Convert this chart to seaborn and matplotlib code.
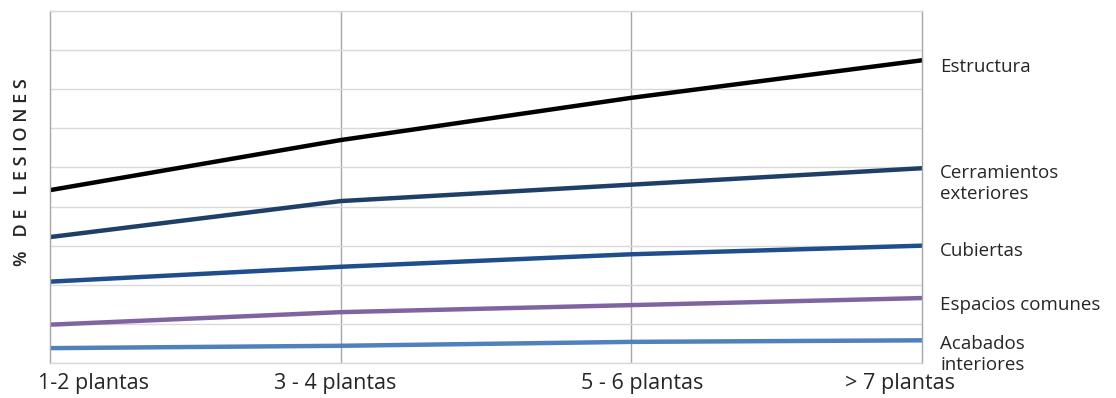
import matplotlib
matplotlib.use("Agg")
import matplotlib.pyplot as plt
import matplotlib.transforms as mtransforms
import seaborn as sns
import pandas as pd

categories = ["1-2 plantas", "3 - 4 plantas", "5 - 6 plantas", "> 7 plantas"]
estructura = [22.1, 28.5, 33.9, 38.7]
cerramientos = [16.1, 20.7, 22.8, 24.9]
cubiertas = [10.4, 12.3, 13.9, 15.0]
espacios = [4.9, 6.5, 7.4, 8.3]
acabados = [1.9, 2.2, 2.7, 2.9]
series_names = ["Estructura", "Cerramientos\nexteriores", "Cubiertas",
                "Espacios comunes", "Acabados\ninteriores"]
series_values = [estructura, cerramientos, cubiertas, espacios, acabados]
colors = ["#000000", "#1F3F68", "#1F4E8C", "#8064A2", "#4F81BD"]
ylabel = "%   D E   L E S I O N E S"

rows = []
for name, vals in zip(series_names, series_values):
    for i, v in enumerate(vals):
        rows.append({"x": i, "cat": categories[i], "serie": name, "valor": v})
df = pd.DataFrame(rows)

sns.set_theme(style="white")
plt.rcParams["font.family"] = ["Open Sans", "DejaVu Sans"]

fig = plt.figure(figsize=(11.16, 3.98), dpi=100)
ax = fig.add_axes([50 / 1116, 1 - 363 / 398, (922 - 50) / 1116, (363 - 11) / 398])

sns.lineplot(data=df, x="x", y="valor", hue="serie", palette=colors,
             hue_order=series_names, linewidth=3.2, ax=ax, legend=False,
             sort=False)

ax.set_xlim(0, 3)
ax.set_ylim(0, 45)
ax.set_yticks(range(0, 46, 5))
ax.set_yticklabels([])
ax.tick_params(axis="y", length=0)
ax.grid(axis="y", color="#D9D9D9", linewidth=1)
ax.set_axisbelow(True)
for xv in [1, 2]:
    ax.axvline(xv, color="#A6A6A6", linewidth=1, zorder=0)
for s in ["left", "right"]:
    ax.spines[s].set_color("#A6A6A6")
    ax.spines[s].set_linewidth(1)
for s in ["top", "bottom"]:
    ax.spines[s].set_color("#D9D9D9")
    ax.spines[s].set_linewidth(1)

ax.set_xticks(range(len(categories)))
ax.set_xticklabels(categories, fontsize=15.5, color="#262626")
ax.tick_params(axis="x", length=0, pad=7)
offsets = [43, -5, 11, -22]
for lab, dx in zip(ax.get_xticklabels(), offsets):
    lab.set_transform(lab.get_transform() +
                      mtransforms.ScaledTranslation(dx / 100, 0, fig.dpi_scale_trans))
ax.set_xlabel("")
ax.set_ylabel("")

label_dy = [-5, -11, -4, -5, -10]
for name, vals, dy in zip(series_names, series_values, label_dy):
    ax.annotate(name, xy=(3, vals[-1]), xytext=(13, dy), textcoords="offset points",
                ha="left", va="center", fontsize=13.5, color="#262626",
                annotation_clip=False, linespacing=1.2)

fig.text(22 / 1116, 1 - 172 / 398, ylabel, rotation=90, ha="center", va="center",
         fontsize=13, fontweight="semibold", color="#262626")

fig.savefig("out.png", dpi=100)
